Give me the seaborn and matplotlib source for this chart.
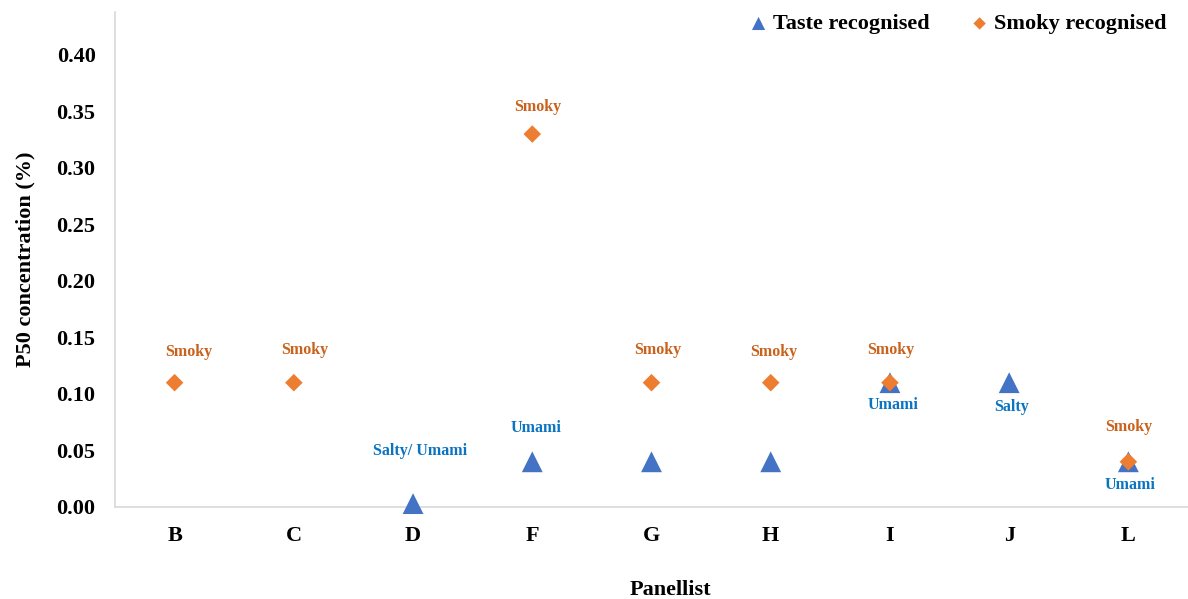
import numpy as np
import matplotlib
matplotlib.use("Agg")
import matplotlib.pyplot as plt
import seaborn as sns

# Panellists and their P50 recognition concentrations (%)
panellists = ["B", "C", "D", "F", "G", "H", "I", "J", "L"]
taste_p50 = [np.nan, np.nan, 0.003, 0.04, 0.04, 0.04, 0.11, 0.11, 0.04]
smoky_p50 = [0.11, 0.11, np.nan, 0.33, 0.11, 0.11, 0.11, np.nan, 0.04]

# Descriptor reported at the recognition threshold
taste_desc = [None, None, "Salty/ Umami", "Umami", None, None, "Umami", "Salty", "Umami"]
smoky_desc = ["Smoky", "Smoky", None, "Smoky", "Smoky", "Smoky", "Smoky", None, "Smoky"]

y_ticks = [0.00, 0.05, 0.10, 0.15, 0.20, 0.25, 0.30, 0.35, 0.40]

sns.set_theme(style="white")
plt.rcParams["font.family"] = ["Liberation Serif", "DejaVu Serif"]
plt.rcParams["font.weight"] = "bold"
plt.rcParams["text.color"] = "black"
plt.rcParams["axes.labelcolor"] = "black"
plt.rcParams["xtick.color"] = "black"
plt.rcParams["ytick.color"] = "black"

BLUE = "#4472C4"
ORANGE = "#ED7D31"
TXT_ORANGE = "#C9621C"
TXT_BLUE = "#0A74C2"

W, H = 1188, 599
fig = plt.figure(figsize=(W / 100, H / 100), dpi=100)
ax = fig.add_axes([115 / W, 1 - 507 / H, (W - 115) / W, (507 - 12) / H])

x = np.arange(len(panellists))

sns.scatterplot(x=x, y=taste_p50, marker="^", s=225, color=BLUE,
                edgecolor="none", linewidth=0, label="Taste recognised", ax=ax,
                zorder=3, clip_on=False)
sns.scatterplot(x=x, y=smoky_p50, marker="D", s=80, color=ORANGE,
                edgecolor="none", linewidth=0, label="Smoky recognised", ax=ax,
                zorder=4, clip_on=False)

# label offsets in pixels (dx, dy), converted to points below
smoky_off = {"B": (14, 31), "C": (11, 33), "F": (5, 27), "G": (6, 33),
             "H": (3, 31), "I": (1, 33), "L": (0, 35)}
taste_off = {"D": (7, 53), "F": (4, 34), "I": (3, -22), "J": (2, -24), "L": (2, -23)}

for i, p in enumerate(panellists):
    if smoky_desc[i]:
        dx, dy = smoky_off[p]
        ax.annotate(smoky_desc[i], (x[i], smoky_p50[i]), xytext=(dx * 0.72, dy * 0.72),
                    textcoords="offset points", ha="center", va="center",
                    fontsize=11.5, fontweight="bold", color=TXT_ORANGE, zorder=5)
    if taste_desc[i]:
        dx, dy = taste_off[p]
        ax.annotate(taste_desc[i], (x[i], taste_p50[i]), xytext=(dx * 0.72, dy * 0.72),
                    textcoords="offset points", ha="center", va="center",
                    fontsize=11.5, fontweight="bold", color=TXT_BLUE, zorder=5)

ax.set_xlim(-0.5, len(panellists) - 0.5)
ax.set_ylim(0, 0.438)
ax.set_xticks(x)
ax.set_xticklabels(panellists, fontsize=16, fontweight="bold")
ax.set_yticks(y_ticks)
ax.set_yticklabels([f"{v:.2f}" for v in y_ticks], fontsize=16, fontweight="bold")
ax.tick_params(axis="both", length=0)
ax.tick_params(axis="x", pad=14)
ax.tick_params(axis="y", pad=14)

for s in ["top", "right"]:
    ax.spines[s].set_visible(False)
for s in ["left", "bottom"]:
    ax.spines[s].set_color("#D9D9D9")
    ax.spines[s].set_linewidth(1.2)

ax.set_xlabel("Panellist", fontsize=16, fontweight="bold", va="center")
ax.xaxis.set_label_coords(0.518, -(590 - 507) / 495)
ax.set_ylabel("P50 concentration (%)", fontsize=16, fontweight="bold", va="center")
ax.yaxis.set_label_coords((25 - 115) / (W - 115), 0.5)

leg = ax.legend(loc="center", bbox_to_anchor=(957 / W, 1 - 24 / H),
                bbox_transform=fig.transFigure, ncol=2, frameon=False,
                handletextpad=0.15, columnspacing=1.75,
                handlelength=1.0, prop={"size": 16, "weight": "bold"})
leg.legend_handles[0].set_sizes([90])
leg.legend_handles[1].set_sizes([40])

fig.savefig("out.png", dpi=100)
